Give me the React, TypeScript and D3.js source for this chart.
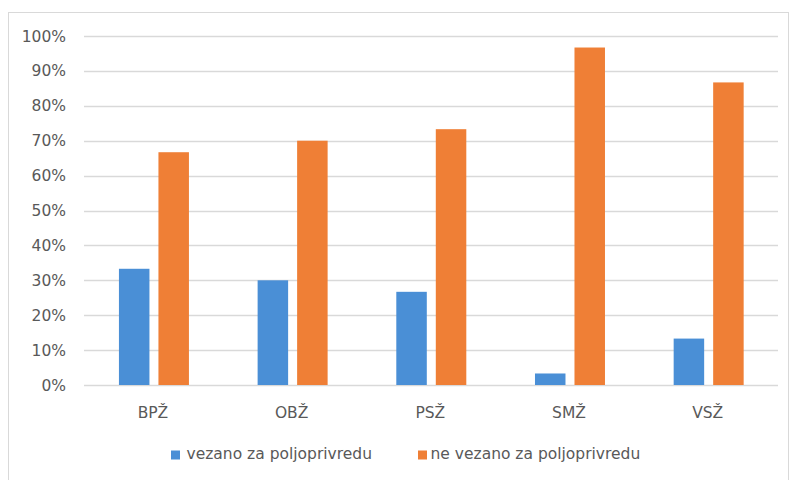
import React from "react";
import * as d3 from "d3";

const categories = ["BPŽ", "OBŽ", "PSŽ", "SMŽ", "VSŽ"];
const seriesNames = ["vezano za poljoprivredu", "ne vezano za poljoprivredu"];
const vezano = [33.3, 30.0, 26.7, 3.3, 13.3];
const neVezano = [66.7, 70.0, 73.3, 96.7, 86.7];
const yTicks = [0, 10, 20, 30, 40, 50, 60, 70, 80, 90, 100];
const colors = ["#4A8FD6", "#EF7F36"];

const W = 789;
const H = 480;
const FONT = "'DejaVu Sans', sans-serif";
const TEXT = "#595959";
const FS = 15.5;

export default function App() {
  const x = d3.scaleBand<string>().domain(categories).range([84.6, 778]);
  const y = d3.scaleLinear().domain([0, 100]).range([385, 36]);
  const barW = 30.5;
  const gap = 9;
  const series = [vezano, neVezano];

  return (
    <svg
      width={W}
      height={H}
      style={{ position: "absolute", left: 0, top: 0, background: "#fff" }}
    >
      <rect x={8.5} y={12.5} width={780} height={480} fill="#fff" stroke="#d9d9d9" strokeWidth={1} />
      {yTicks.map((t) => (
        <g key={t}>
          <line x1={84} x2={778} y1={Math.round(y(t)) + 0.5} y2={Math.round(y(t)) + 0.5} stroke="#d9d9d9" strokeWidth={1.3} />
          <text x={66} y={y(t)} dy="0.36em" textAnchor="end" fontFamily={FONT} fontSize={FS} fill={TEXT}>
            {t}%
          </text>
        </g>
      ))}
      {categories.map((c, i) => {
        const cx = (x(c) as number) + x.bandwidth() / 2;
        return (
          <g key={c}>
            {series.map((s, si) => {
              const bx = si === 0 ? cx - gap / 2 - barW : cx + gap / 2;
              return (
                <rect key={si} x={bx} y={y(s[i])} width={barW} height={y(0) - y(s[i])} fill={colors[si]} />
              );
            })}
            <text x={cx - 1} y={418} textAnchor="middle" fontFamily={FONT} fontSize={FS} fill={TEXT}>
              {c}
            </text>
          </g>
        );
      })}
      {seriesNames.map((n, i) => {
        const lx = i === 0 ? 171 : 418;
        const tx = i === 0 ? 186.5 : 430.5;
        return (
          <g key={n}>
            <rect x={lx} y={450.5} width={9} height={9} fill={colors[i]} />
            <text x={tx} y={459} fontFamily={FONT} fontSize={FS} fill={TEXT}>
              {n}
            </text>
          </g>
        );
      })}
    </svg>
  );
}
